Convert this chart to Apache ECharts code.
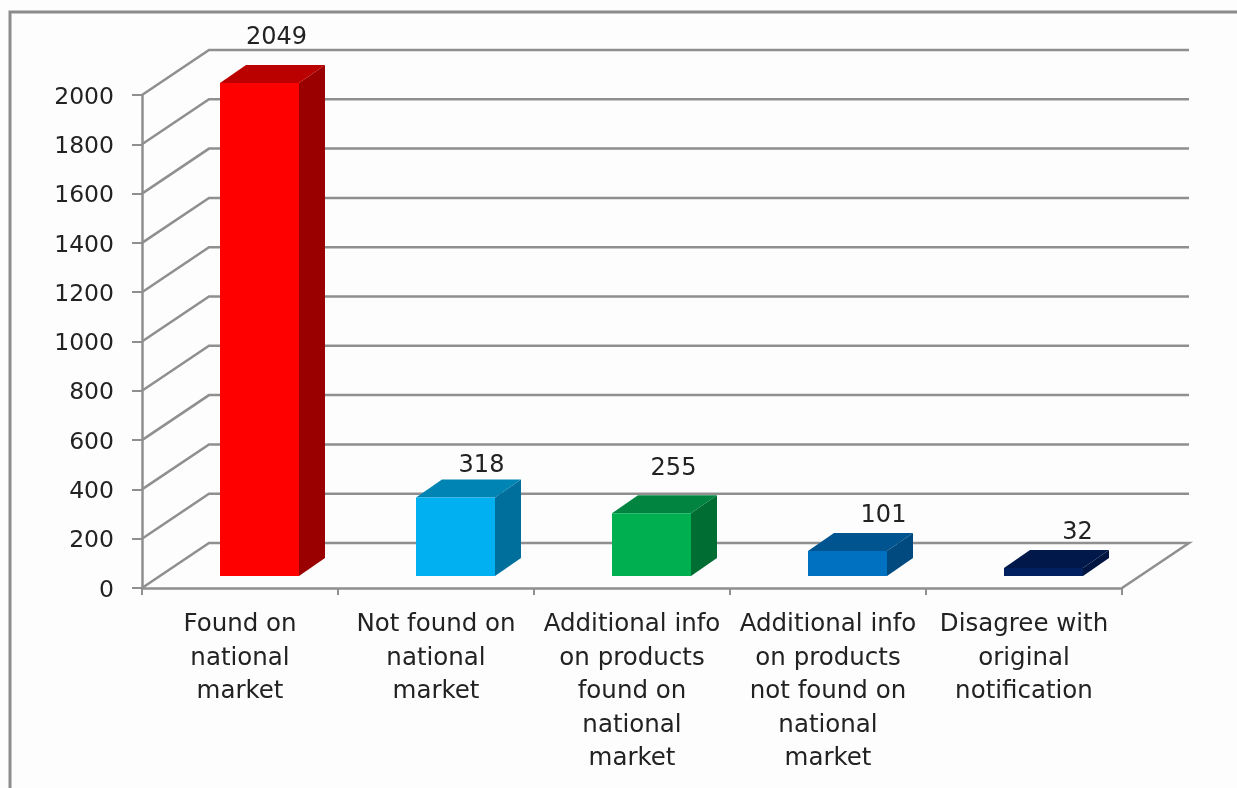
<!DOCTYPE html>
<html>
<head>
<meta charset="utf-8">
<title>chart</title>
<style>
  html, body { margin: 0; padding: 0; background: #fdfdfd; }
  #main { width: 1237px; height: 788px; }
</style>
<script src="https://cdn.jsdelivr.net/npm/echarts@6/dist/echarts.min.js"></script>
</head>
<body>
<div id="main"></div>
<script>
  var categories = [
    'Found on\nnational\nmarket',
    'Not found on\nnational\nmarket',
    'Additional info\non products\nfound on\nnational\nmarket',
    'Additional info\non products\nnot found on\nnational\nmarket',
    'Disagree with\noriginal\nnotification'
  ]
  var values = [2049, 318, 255, 101, 32]
  var yTicks = [0, 200, 400, 600, 800, 1000, 1200, 1400, 1600, 1800, 2000]

  // 立体柱的颜色：正面、顶面、侧面
  var faceColors = ['#ff0000', '#00b0f0', '#00b050', '#0070c0', '#002060']
  var topColors = ['#bb0000', '#0084b4', '#008440', '#005490', '#00184a']
  var sideColors = ['#9b0000', '#006f9b', '#006e33', '#004a7f', '#001540']
  // 标签相对柱子的偏移
  var labelDx = [17, 26, 22, 36, 34]
  var labelDy = [-27, -14, -26, -17, -17]

  var lineColor = '#8f8f8f'
  var textColor = '#222222'
  var wallDx = 67
  var wallDy = -45
  var barWidth = 79
  var barDx = 26
  var barDy = -18
  var barInX = 19.5
  var barInY = -12

  function renderWall(params, api) {
    var rect = params.coordSys
    var p = api.coord([0, api.value(0)])
    var x0 = rect.x
    var x1 = rect.x + rect.width
    var points = [[x0, p[1]], [x0 + wallDx, p[1] + wallDy], [x1 + wallDx, p[1] + wallDy]]
    if (api.value(0) === 0) {
      points.push([x1, p[1]])
    }
    return {
      type: 'polyline',
      shape: { points: points },
      style: { stroke: lineColor, lineWidth: 2.5, fill: 'none' }
    }
  }

  function renderBar(params, api) {
    var i = api.value(0)
    // 超出坐标轴上限的柱子按上限截断
    var top = api.coord([i, Math.min(api.value(1), 2000)])
    var bottom = api.coord([i, 0])
    var xl = top[0] + barInX - barWidth / 2
    var xr = xl + barWidth
    var yt = top[1] + barInY
    var yb = bottom[1] + barInY
    return {
      type: 'group',
      children: [{
        type: 'polygon',
        shape: { points: [[xr, yt], [xr + barDx, yt + barDy], [xr + barDx, yb + barDy], [xr, yb]] },
        style: { fill: sideColors[i] }
      }, {
        type: 'polygon',
        shape: { points: [[xl, yt], [xl + barDx, yt + barDy], [xr + barDx, yt + barDy], [xr, yt]] },
        style: { fill: topColors[i] }
      }, {
        type: 'rect',
        shape: { x: xl, y: yt, width: barWidth, height: yb - yt },
        style: { fill: faceColors[i] }
      }, {
        type: 'text',
        style: {
          text: String(api.value(1)),
          x: xl + barWidth / 2 + labelDx[i],
          y: yt + barDy + labelDy[i],
          align: 'center',
          verticalAlign: 'middle',
          font: '24px "DejaVu Sans"',
          fill: textColor
        }
      }]
    }
  }

  var charts = echarts.init(document.getElementById('main'))
  var option = {
    animation: false,
    backgroundColor: '#fdfdfd',
    textStyle: { fontFamily: '"DejaVu Sans"' },
    grid: { left: 142, right: 115, top: 95, bottom: 200 },
    graphic: [{
      type: 'polyline',
      shape: { points: [[10, 788], [10, 12], [1237, 12]] },
      style: { stroke: '#8c8c8c', lineWidth: 3, fill: 'none' }
    }],
    xAxis: {
      type: 'category',
      data: categories,
      axisLine: { lineStyle: { color: lineColor, width: 2.5 } },
      axisTick: { show: true, length: 7, lineStyle: { color: lineColor, width: 2 } },
      axisLabel: {
        interval: 0,
        color: textColor,
        fontSize: 24.5,
        lineHeight: 33.5,
        margin: 20
      }
    },
    yAxis: {
      type: 'value',
      min: 0,
      max: 2000,
      interval: 200,
      splitLine: { show: false },
      axisLine: { show: true, lineStyle: { color: lineColor, width: 2.5 } },
      axisTick: { show: true, length: 10, lineStyle: { color: lineColor, width: 2 } },
      axisLabel: {
        margin: 28,
        formatter: function (v) { return '{t|' + v + '}' },
        rich: {
          t: { color: textColor, fontSize: 23.5, padding: [5, 0, 0, 0] }
        }
      }
    },
    series: [{
      type: 'custom',
      renderItem: renderWall,
      data: yTicks.map(function (v) { return [v] }),
      encode: { y: 0 },
      clip: false,
      silent: true,
      z: 1
    }, {
      type: 'custom',
      renderItem: renderBar,
      data: values.map(function (v, i) { return [i, v] }),
      encode: { x: 0, y: 1 },
      clip: false,
      z: 2
    }]
  }
  charts.setOption(option)
  window.addEventListener('resize', function () {
    charts.resize()
  })
</script>
</body>
</html>
